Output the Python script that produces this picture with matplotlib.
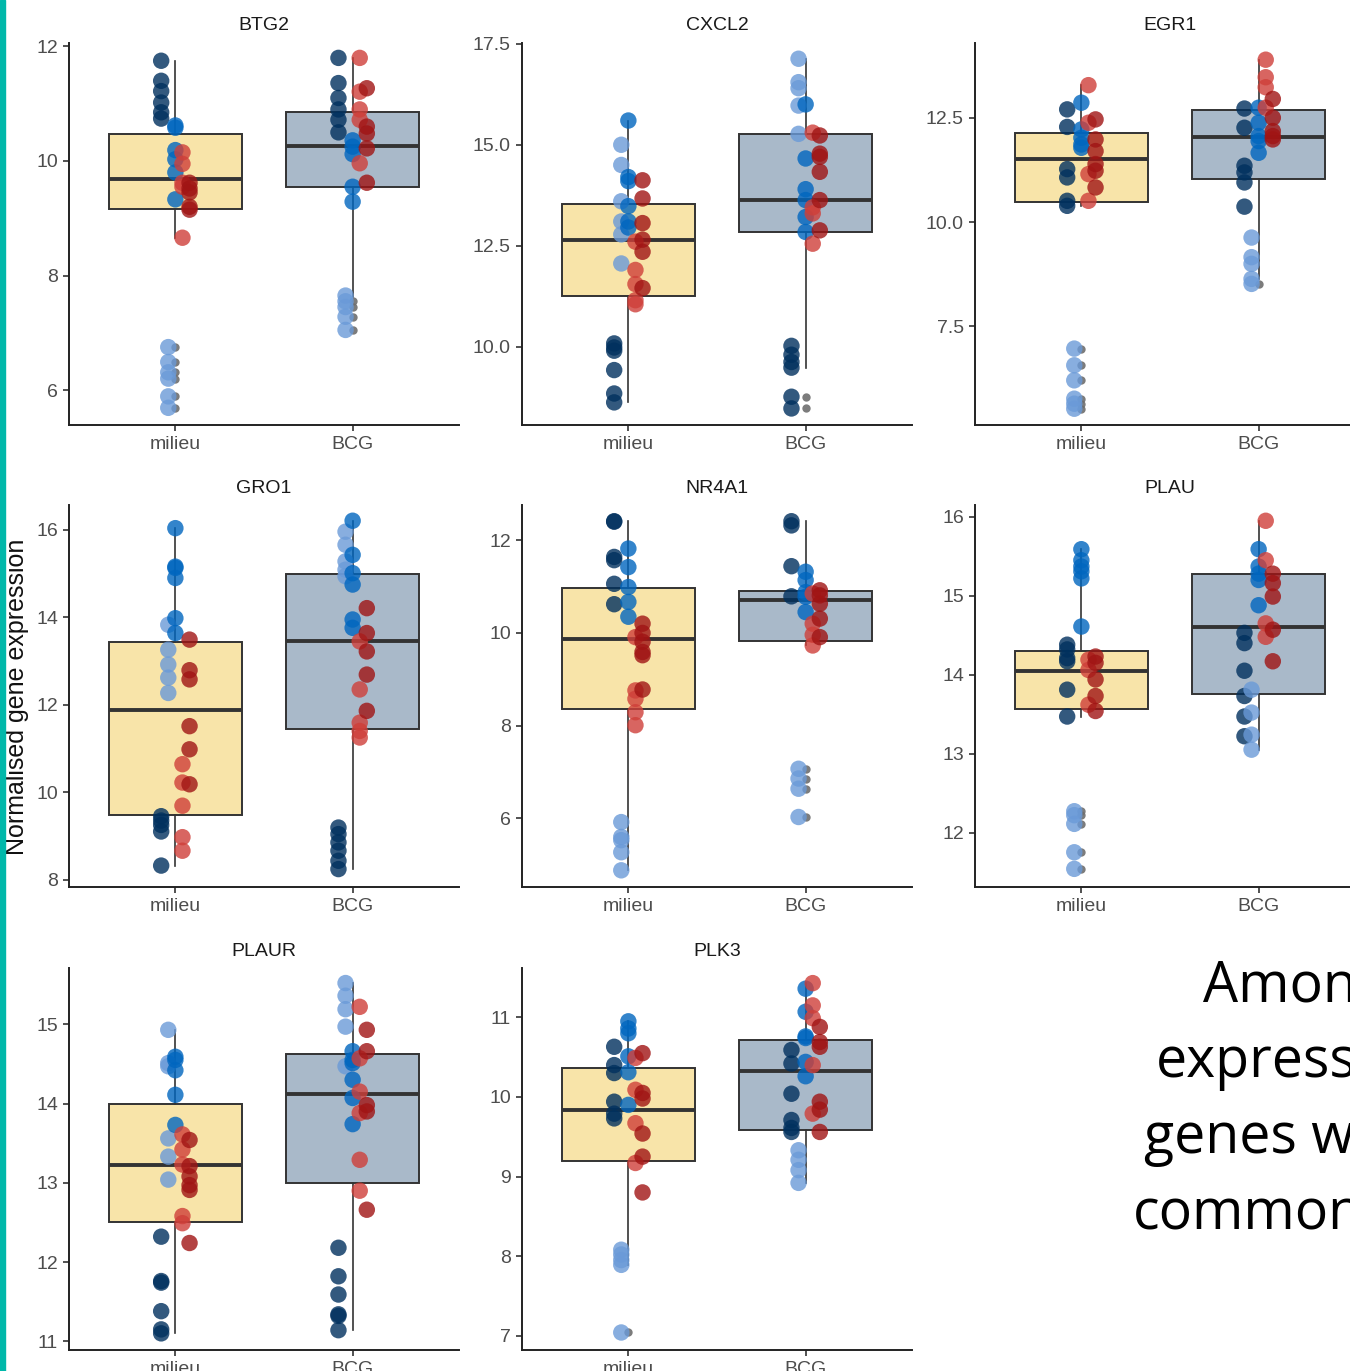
import numpy as np
import matplotlib.pyplot as plt
from matplotlib.patches import Rectangle
from matplotlib.ticker import FormatStrFormatter

plt.rcParams['font.family'] = ['Liberation Sans', 'DejaVu Sans']

genes = ['BTG2', 'CXCL2', 'EGR1', 'GRO1', 'NR4A1', 'PLAU', 'PLAUR', 'PLK3']
groups = ['milieu', 'BCG']
box_cols = ['#f8e4a9', '#a9b9c9']

# donors: navy, light blue, mid blue, light red, dark red
donor_cols = ['#00305e', '#6a9ad8', '#0066bf', '#cf3f39', '#a01414']
donor_off = [-0.08, -0.04, 0.0, 0.04, 0.08]

# each group = [navy, light blue, mid blue, light red, dark red]
btg2_milieu = [[11.75, 11.40, 11.22, 11.02, 10.85, 10.74],
               [6.75, 6.49, 6.31, 6.20, 5.89, 5.69],
               [10.62, 10.58, 10.19, 10.03, 9.80, 9.33],
               [10.15, 9.95, 9.62, 9.55, 8.66],
               [9.62, 9.52, 9.45, 9.20, 9.15]]
btg2_bcg = [[11.80, 11.36, 11.10, 10.90, 10.72, 10.50],
            [7.65, 7.55, 7.45, 7.28, 7.05],
            [10.36, 10.25, 10.12, 9.55, 9.29],
            [11.80, 11.21, 10.90, 10.72, 9.96],
            [11.27, 10.60, 10.48, 10.22, 9.62]]

cxcl2_milieu = [[10.08, 9.98, 9.90, 9.42, 8.84, 8.62],
                [15.0, 14.5, 13.6, 13.1, 12.78, 12.06],
                [15.6, 14.2, 14.1, 13.48, 13.1, 12.95],
                [12.6, 11.9, 11.55, 11.15, 11.05],
                [14.12, 13.67, 13.06, 12.65, 12.35, 11.45]]
cxcl2_bcg = [[10.02, 9.80, 9.62, 9.48, 8.76, 8.47],
             [17.13, 16.55, 16.40, 15.97, 15.27],
             [16.0, 14.66, 13.9, 13.63, 13.21, 12.84],
             [15.3, 13.45, 13.3, 12.55],
             [15.23, 14.78, 14.70, 14.33, 13.63, 12.88]]

egr1_milieu = [[12.70, 12.28, 11.27, 11.07, 10.51, 10.39],
               [6.97, 6.57, 6.21, 5.77, 5.65, 5.53],
               [12.86, 12.22, 12.02, 11.86, 11.78],
               [13.28, 12.38, 11.15, 10.51],
               [12.46, 11.98, 11.70, 11.39, 11.23, 10.83]]
egr1_bcg = [[12.72, 12.26, 11.35, 11.19, 10.95, 10.37],
            [9.63, 9.16, 9.0, 8.64, 8.52],
            [12.74, 12.38, 12.06, 11.94, 11.66],
            [13.89, 13.47, 13.23, 12.74],
            [12.95, 12.5, 12.18, 12.06, 11.98]]

gro1_milieu = [[9.45, 9.35, 9.25, 9.10, 8.32],
               [13.83, 13.26, 12.92, 12.62, 12.27],
               [16.04, 15.16, 15.13, 14.90, 13.98, 13.64],
               [10.64, 10.22, 9.69, 8.97, 8.66],
               [13.49, 12.79, 12.58, 11.51, 10.98, 10.18]]
gro1_bcg = [[9.19, 9.04, 8.85, 8.66, 8.43, 8.24],
            [15.96, 15.66, 15.28, 15.09, 14.94],
            [16.21, 15.43, 15.01, 14.75, 13.95, 13.76],
            [13.45, 12.35, 11.59, 11.40, 11.25],
            [14.21, 13.64, 13.22, 12.69, 11.86]]

nr4a1_milieu = [[12.41, 12.40, 11.64, 11.57, 11.06, 10.62],
                [5.92, 5.60, 5.53, 5.27, 4.88],
                [11.82, 11.42, 10.99, 10.67, 10.35],
                [9.91, 8.76, 8.58, 8.29, 8.01],
                [10.20, 10.00, 9.81, 9.59, 9.52, 8.78]]
nr4a1_bcg = [[12.41, 12.32, 11.44, 10.79],
             [7.07, 6.86, 6.64, 6.03],
             [11.32, 11.14, 10.88, 10.78, 10.45],
             [10.85, 10.20, 9.96, 9.73],
             [10.92, 10.81, 10.63, 10.31, 9.91]]

plau_milieu = [[14.38, 14.32, 14.21, 14.17, 13.81, 13.47],
               [12.27, 12.22, 12.11, 11.75, 11.54],
               [15.59, 15.45, 15.37, 15.31, 15.22, 14.61],
               [14.19, 14.06, 13.62],
               [14.23, 14.15, 13.94, 13.73, 13.54]]
plau_bcg = [[14.53, 14.40, 14.05, 13.73, 13.47, 13.22],
            [13.81, 13.52, 13.24, 13.05],
            [15.59, 15.37, 15.28, 15.20, 14.88],
            [15.95, 15.45, 14.65, 14.48],
            [15.28, 15.16, 14.99, 14.57, 14.17]]

plaur_milieu = [[12.32, 11.76, 11.74, 11.38, 11.15, 11.10],
                [14.93, 14.51, 14.47, 13.56, 13.33, 13.04],
                [14.59, 14.55, 14.42, 14.11, 13.73],
                [13.61, 13.42, 13.23, 12.58, 12.49],
                [13.54, 13.21, 13.08, 12.97, 12.91, 12.24]]
plaur_bcg = [[12.18, 11.82, 11.59, 11.34, 11.32, 11.14],
             [15.52, 15.36, 15.19, 14.97, 14.47],
             [14.66, 14.55, 14.51, 14.30, 14.07, 13.74],
             [15.22, 14.57, 14.15, 13.88, 13.29, 12.90],
             [14.93, 14.66, 13.98, 13.90, 12.66]]

plk3_milieu = [[10.63, 10.40, 10.30, 9.94, 9.79, 9.73],
               [8.08, 8.02, 7.95, 7.89, 7.04],
               [10.95, 10.86, 10.80, 10.51, 10.31, 9.90],
               [10.49, 10.09, 9.67, 9.17],
               [10.55, 10.05, 9.98, 9.54, 9.25, 8.80]]
plk3_bcg = [[10.59, 10.42, 10.04, 9.71, 9.61, 9.56],
            [9.33, 9.21, 9.08, 8.92],
            [11.36, 11.07, 10.76, 10.74, 10.44, 10.26],
            [11.43, 11.15, 10.99, 10.40, 9.79],
            [10.88, 10.69, 10.63, 9.94, 9.84, 9.56]]

# box stats per group: (whislo, q1, median, q3, whishi)
btg2_box = [(8.66, 9.17, 9.68, 10.47, 11.75), (7.63, 9.54, 10.27, 10.85, 11.80)]
cxcl2_box = [(8.62, 11.25, 12.65, 13.53, 15.6), (9.48, 12.84, 13.63, 15.26, 17.13)]
egr1_box = [(10.39, 10.47, 11.52, 12.14, 13.28), (8.64, 11.03, 12.04, 12.68, 13.89)]
gro1_box = [(8.32, 9.48, 11.89, 13.43, 16.04), (8.24, 11.45, 13.45, 14.99, 16.21)]
nr4a1_box = [(4.88, 8.37, 9.88, 10.98, 12.41), (9.73, 9.83, 10.71, 10.91, 12.41)]
plau_box = [(13.47, 13.57, 14.05, 14.30, 15.59), (13.05, 13.75, 14.61, 15.27, 15.95)]
plaur_box = [(11.10, 12.50, 13.23, 14.0, 14.93), (11.14, 13.0, 14.12, 14.63, 15.52)]
plk3_box = [(7.89, 9.20, 9.84, 10.36, 10.95), (8.92, 9.59, 10.32, 10.72, 11.43)]

ylims = [(5.39, 12.06), (8.06, 17.52), (5.14, 14.29), (7.83, 16.57),
         (4.52, 12.76), (11.31, 16.15), (10.89, 15.71), (6.82, 11.62)]
yticks = [[6, 8, 10, 12], [10, 12.5, 15, 17.5], [7.5, 10, 12.5], [8, 10, 12, 14, 16],
          [6, 8, 10, 12], [12, 13, 14, 15, 16], [11, 12, 13, 14, 15], [7, 8, 9, 10, 11]]
yfmt = ['%d', '%.1f', '%.1f', '%d', '%d', '%d', '%d', '%d']

panels = [(btg2_milieu, btg2_bcg), (cxcl2_milieu, cxcl2_bcg), (egr1_milieu, egr1_bcg),
          (gro1_milieu, gro1_bcg), (nr4a1_milieu, nr4a1_bcg), (plau_milieu, plau_bcg),
          (plaur_milieu, plaur_bcg), (plk3_milieu, plk3_bcg)]
boxes = [btg2_box, cxcl2_box, egr1_box, gro1_box, nr4a1_box, plau_box, plaur_box, plk3_box]

W, H = 1350, 1371
fig = plt.figure(figsize=(W / 100, H / 100), dpi=100)
col_x = [69, 522, 975]
row_top = [43, 505, 968]
pw, ph = 390, 382

for i, gene in enumerate(genes):
    r, c = divmod(i, 3)
    ax = fig.add_axes([col_x[c] / W, 1 - (row_top[r] + ph) / H, pw / W, ph / H])

    stats = []
    for k, (lo, q1, med, q3, hi) in enumerate(boxes[i]):
        vals = np.concatenate([np.array(v) for v in panels[i][k]])
        fl = vals[(vals < lo - 1e-9) | (vals > hi + 1e-9)]
        stats.append(dict(whislo=lo, q1=q1, med=med, q3=q3, whishi=hi, fliers=fl))
    bp = ax.bxp(stats, positions=[1, 2], widths=0.75, patch_artist=True, showcaps=False,
                boxprops=dict(edgecolor='#333333', linewidth=1.4),
                medianprops=dict(color='#333333', linewidth=2.8),
                whiskerprops=dict(color='#333333', linewidth=1.2),
                flierprops=dict(marker='o', markerfacecolor='#6e6e6e', markeredgecolor='none',
                                markersize=6, alpha=0.9))
    for patch, fc in zip(bp['boxes'], box_cols):
        patch.set_facecolor(fc)

    # points dodged by donor
    for k, pos in enumerate([1, 2]):
        for d in range(5):
            v = panels[i][k][d]
            ax.scatter(np.full(len(v), pos + donor_off[d]), v, s=140, color=donor_cols[d],
                       alpha=0.8, edgecolors='none', zorder=3)

    ax.set_xlim(0.4, 2.6)
    ax.set_ylim(*ylims[i])
    ax.set_yticks(yticks[i])
    ax.yaxis.set_major_formatter(FormatStrFormatter(yfmt[i]))
    ax.set_xticks([1, 2])
    ax.set_xticklabels(groups)
    ax.set_title(gene, fontsize=14, color='#1a1a1a', pad=9)
    for s in ['top', 'right']:
        ax.spines[s].set_visible(False)
    for s in ['left', 'bottom']:
        ax.spines[s].set_linewidth(1.4)
        ax.spines[s].set_color('#222222')
    ax.tick_params(length=4, width=1.2, color='#333333', labelcolor='#4d4d4d',
                   labelsize=14, pad=4)

# teal bar on the left edge
fig.add_artist(Rectangle((0, 0), 5 / W, 1, transform=fig.transFigure,
                         color='#00b8aa', zorder=10))

fig.text(17 / W, 1 - 697 / H, 'Normalised gene expression', rotation=90,
         ha='center', va='center', fontsize=18, color='#111111')

# slide text, cut off at the right edge
for txt, x, y in [('Among', 1203, 1002), ('expressed', 1156, 1077),
                  ('genes were', 1144, 1153), ('common', 1133, 1230)]:
    fig.text(x / W, 1 - y / H, txt, fontsize=40, family='Open Sans',
             ha='left', va='baseline', color='black')

fig.savefig('out.png', dpi=100)
